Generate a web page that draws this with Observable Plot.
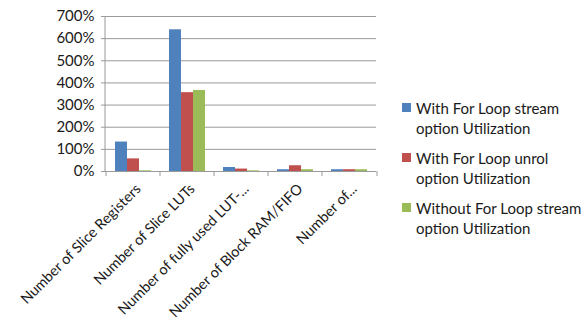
<!DOCTYPE html>
<html>
<head>
<meta charset="utf-8">
<script src="https://cdn.jsdelivr.net/npm/d3@7"></script>
<script src="https://cdn.jsdelivr.net/npm/@observablehq/plot@0.6"></script>
<style>
  html, body { margin: 0; padding: 0; background: #fff; }
  #wrap { position: relative; width: 587px; height: 325px; font-family: Lato, "Open Sans", sans-serif; }
  #legend { position: absolute; left: 402px; top: 98px; font-size: 15px; color: #1a1a1a; }
  .item { position: relative; padding-left: 14px; line-height: 20px; margin-bottom: 10px; }
  .sw { position: absolute; left: 0; top: 5px; width: 9px; height: 9px; }
</style>
</head>
<body>
<div id="wrap"></div>
<script>
const categories = ["Number of Slice Registers", "Number of Slice LUTs", "Number of fully used LUT-...", "Number of Block RAM/FIFO", "Number of..."];
const seriesNames = ["With For Loop stream option Utilization", "With For Loop unrol option Utilization", "Without For Loop stream option Utilization"];
const legendLines = [["With For Loop stream", "option Utilization"], ["With For Loop unrol", "option Utilization"], ["Without For Loop stream", "option Utilization"]];
const streamVals = [133, 640, 18, 8, 8];
const unrolVals = [57, 356, 11, 26, 8];
const withoutVals = [3, 366, 3, 8, 8];
const yTicks = [0, 100, 200, 300, 400, 500, 600, 700];
const colors = ["#4F81BD", "#C0504D", "#9BBB59"];

const seriesVals = [streamVals, unrolVals, withoutVals];
const data = [];
categories.forEach((c, i) => seriesNames.forEach((s, j) => data.push({category: c, series: s, value: seriesVals[j][i]})));

const plot = Plot.plot({
  width: 587,
  height: 325,
  marginLeft: 105,
  marginRight: 210,
  marginTop: 16,
  marginBottom: 154,
  style: {fontFamily: "Lato, 'Open Sans', sans-serif", color: "#1a1a1a", background: "#fff"},
  fx: {domain: categories, padding: 0, label: null},
  x: {domain: seriesNames, paddingInner: 0, paddingOuter: 0.75, axis: null},
  y: {domain: [0, 700], label: null},
  color: {domain: seriesNames, range: colors},
  marks: [
    Plot.gridY(yTicks, {stroke: "#9a9a9a", strokeOpacity: 1, strokeWidth: 1}),
    Plot.barY(data, {fx: "category", x: "series", y: "value", fill: "series"}),
    Plot.axisY(yTicks, {tickFormat: d => d + "%", tickSize: 5, tickPadding: 7, fontSize: 15, label: null, stroke: "#9a9a9a"}),
    Plot.axisFx({anchor: "bottom", tickRotate: -45, tickSize: 0, tickPadding: 15, dx: 5, fontSize: 14.5, label: null})
  ]
});

// boundary tick marks and left axis line, from the library's scales
const fx = plot.scale("fx");
const y = plot.scale("y");
const svg = d3.select(plot);
const bounds = categories.map(c => fx.apply(c)).concat([fx.range[1]]);
const y0 = y.apply(0), yTop = y.apply(700);
svg.append("g").attr("stroke", "#9a9a9a")
  .selectAll("line").data(bounds).join("line")
  .attr("x1", d => d).attr("x2", d => d).attr("y1", y0).attr("y2", y0 + 5);
svg.append("line").attr("stroke", "#9a9a9a")
  .attr("x1", fx.range[0]).attr("x2", fx.range[0]).attr("y1", yTop).attr("y2", y0);

const wrap = document.getElementById("wrap");
wrap.appendChild(plot);

const legend = document.createElement("div");
legend.id = "legend";
seriesNames.forEach((s, i) => {
  const item = document.createElement("div");
  item.className = "item";
  const sw = document.createElement("span");
  sw.className = "sw";
  sw.style.background = colors[i];
  item.appendChild(sw);
  legendLines[i].forEach((t, k) => {
    if (k) item.appendChild(document.createElement("br"));
    item.appendChild(document.createTextNode(t));
  });
  legend.appendChild(item);
});
wrap.appendChild(legend);
</script>
</body>
</html>
